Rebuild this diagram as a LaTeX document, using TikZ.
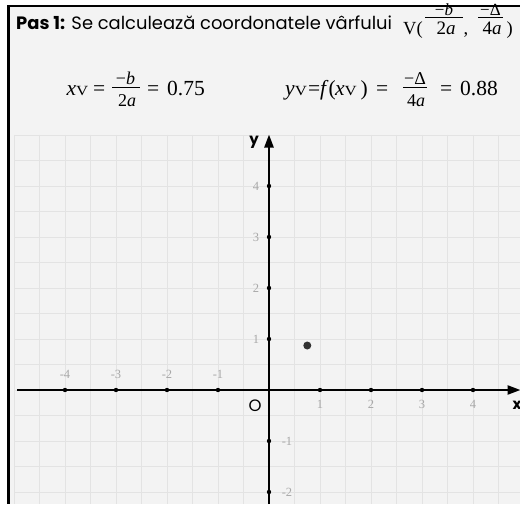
\RequirePackage{fix-cm}
\documentclass[tikz,border=0pt]{standalone}
\usepackage{graphicx}
\usepackage{fontspec}
\setmainfont{Liberation Serif}
\newfontfamily\futura{Poppins}
\usetikzlibrary{arrows.meta}
\definecolor{bgc}{HTML}{F3F3F3}
\definecolor{gridc}{HTML}{E3E3E3}
\definecolor{tickc}{HTML}{A8A8A8}
\definecolor{dotc}{HTML}{333333}
\newcommand\fs[1]{\fontsize{#1}{#1}\selectfont}
\newcommand\Vsub{{\fs{14}\scalebox{1.2}[1]{V}}}
\tikzset{
  gridline/.style={draw=gridc, line width=1pt},
  axisline/.style={draw=black, line width=2.4pt, -{Triangle[length=13pt,width=9pt]}},
  tickdot/.style={circle, fill=black, inner sep=0pt, minimum size=4.4pt},
  ticklab/.style={text=tickc, font=\fs{12.5}, inner sep=0pt},
  axlab/.style={font=\futura\fs{15}, inner sep=0pt, text=black},
  eqtext/.style={anchor=base west, inner sep=0pt, font=\fs{21.5}},
  hdtext/.style={anchor=base west, inner sep=0pt, font=\fs{18.5}},
  fracpart/.style={anchor=base, inner sep=0pt, font=\fs{18}},
  fracbar/.style={draw=black, line width=1pt},
}
\begin{document}
\begin{tikzpicture}[x=1pt,y=-1pt]
\useasboundingbox (0,0) rectangle (520,504);
\fill[white] (0,0) rectangle (520,504);
\fill[bgc] (9,6) rectangle (520,504);
% grid
\foreach \k in {-10,...,9}
  \draw[gridline] ({269+25.5*\k},134.5) -- ({269+25.5*\k},504);
\foreach \k in {-4,...,10}
  \draw[gridline] (14,{390-25.5*\k}) -- (520,{390-25.5*\k});
% borders
\draw[black, line width=1.6pt] (7.5,6) -- (520,6);
\draw[black, line width=2.6pt] (8.7,5.2) -- (8.7,504);
% header
\node[anchor=base west, inner sep=0pt, font=\futura\fs{17.9}] (title) at (16,29.5)
  {\textbf{Pas 1:} Se calculează coordonatele vârfului};
\node[hdtext] (hv) at (403,34.5) {V(};
\coordinate (hb1a) at (425,17.5);
\coordinate (hb1b) at (463,17.5);
\draw[fracbar] (hb1a) -- (hb1b);
\node[fracpart, font=\fs{17}] (hn1) at (444,15) {−\textit{b}};
\node[fracpart, font=\fs{19}] (hd1) at (446,34.8) {2\textit{a}};
\node[hdtext] (hc) at (463.5,34.5) {,};
\coordinate (hb2a) at (478,17.5);
\coordinate (hb2b) at (503,17.5);
\draw[fracbar] (hb2a) -- (hb2b);
\node[fracpart, font=\fs{17}] (hn2) at (490.5,15) {−Δ};
\node[fracpart, font=\fs{19}] (hd2) at (492,34.8) {4\textit{a}};
\node[hdtext] (hp) at (506.5,34.5) {)};
% equation for x
\node[eqtext] (xv) at (66.5,95) {\textit{x}\Vsub};
\node[eqtext] (eq1) at (93,95) {=};
\coordinate (b1a) at (112,87.5);
\coordinate (b1b) at (140,87.5);
\draw[fracbar] (b1a) -- (b1b);
\node[fracpart] (n1) at (125.5,84.8) {−\textit{b}};
\node[fracpart] (d1) at (127,106.5) {2\textit{a}};
\node[eqtext] (eq2) at (147,95) {=};
\node[eqtext] (val1) at (167,95) {0.75};
% equation for y
\node[eqtext] (yv) at (285,95) {\textit{y}\Vsub};
\node[eqtext] (eq3) at (308,95) {=};
\node[eqtext] (fx) at (320,95) {\textit{f}(};
\node[eqtext] (xv2) at (335,95) {\textit{x}\Vsub};
\node[eqtext] (cp) at (360.5,95) {)};
\node[eqtext] (eq4) at (376,95) {=};
\coordinate (b2a) at (403,87.7);
\coordinate (b2b) at (427,87.7);
\draw[fracbar] (b2a) -- (b2b);
\node[fracpart] (n2) at (415,84.8) {−Δ};
\node[fracpart] (d2) at (416,106.5) {4\textit{a}};
\node[eqtext] (eq5) at (440,95) {=};
\node[eqtext] (val2) at (460,95) {0.88};
% axes
\coordinate (xs) at (17,390);
\coordinate (xe) at (520.5,390);
\coordinate (ys) at (269,504);
\coordinate (ye) at (269,134.5);
\draw[axisline] (xs) -- (xe);
\draw[axisline] (ys) -- (ye);
% ticks and labels
\foreach \k in {-4,-3,-2,-1} {
  \node[tickdot] (tx\k) at ({269+51*\k},390) {};
  \node[ticklab] (lx\k) at ({269+51*\k},374) {-\the\numexpr-\k\relax};
}
\foreach \k in {1,2,3,4} {
  \node[tickdot] (tx\k) at ({269+51*\k},390) {};
  \node[ticklab] (lx\k) at ({269+51*\k},404) {\k};
  \node[tickdot] (ty\k) at (269,{390-51*\k}) {};
  \node[ticklab] (ly\k) at (256,{390-51*\k}) {\k};
}
\foreach \k in {1,2} {
  \node[tickdot] (tyn\k) at (269,{390+51*\k}) {};
  \node[ticklab] (lyn\k) at (287,{390+51*\k}) {-\k};
}
\node[axlab, font=\futura\fs{16.5}] (orig) at (255,406) {O};
\node[axlab, font=\futura\bfseries\fs{15}] (xlab) at (517,405) {x};
\node[axlab, font=\futura\bfseries\fs{15}] (ylab) at (254,142) {y};
% vertex
\node[circle, fill=dotc, inner sep=0pt, minimum size=8pt] (V) at (307.3,345.5) {};
\end{tikzpicture}
\end{document}
